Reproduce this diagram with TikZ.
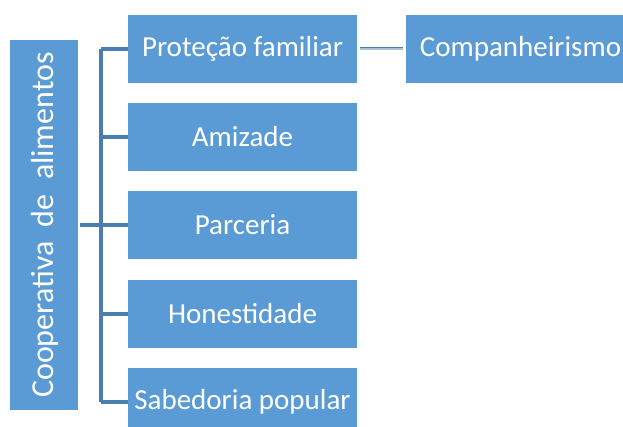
\documentclass[tikz,border=0pt]{standalone}
\usepackage{fontspec}
\setmainfont{Carlito}
\definecolor{boxfill}{HTML}{5B9BD5}
\definecolor{linec}{HTML}{4A7EB0}
\definecolor{lightline}{HTML}{A9C0D6}
\begin{document}
\begin{tikzpicture}[x=1pt,y=-1pt,
  box/.style={fill=boxfill,draw=none,text=white,inner sep=0pt,font=\fontsize{29}{34}\selectfont},
  conn/.style={draw=linec,line width=3.5pt}]
\useasboundingbox (0,0) rectangle (623,427);
\clip (0,0) rectangle (623,427);
\node[box,minimum width=68pt,minimum height=370pt] (root) at (44,225) {};
\node[rotate=90,text=white,font=\fontsize{32}{38}\selectfont] (rootlabel) at ([xshift=1pt]root.center) {Cooperativa\ \ de\ \ alimentos};
\node[box,minimum width=229pt,minimum height=68pt] (c1) at (242.5,49) {Proteção familiar};
\node[box,minimum width=229pt,minimum height=68pt] (c2) at (242.5,137) {Amizade};
\node[box,minimum width=229pt,minimum height=68pt] (c3) at (242.5,225) {Parceria};
\node[box,minimum width=229pt,minimum height=68pt] (c4) at (242.5,314) {Honestidade};
\node[box,minimum width=229pt,minimum height=68pt] (c5) at (242.5,402) {Sabedoria popular};
\node[box,minimum width=229pt,minimum height=68pt] (g1) at (520.5,49) {Companheirismo};
\coordinate (bx) at (101,0);
\draw[conn] ([xshift=2pt]root.east) -- (root.east -| bx);
\draw[conn] (c1.west -| bx) -- (c5.west -| bx);
\foreach \c in {c1,c2,c3,c4,c5}{
  \draw[conn] (\c.west -| bx) -- (\c.west);
}
\draw[draw=lightline,line width=3pt] ([xshift=3pt]c1.east) -- ([xshift=-3pt]g1.west);
\draw[draw=linec,line width=1pt] ([xshift=3pt,yshift=1pt]c1.east) -- ([xshift=-3pt,yshift=1pt]g1.west);
\end{tikzpicture}
\end{document}
